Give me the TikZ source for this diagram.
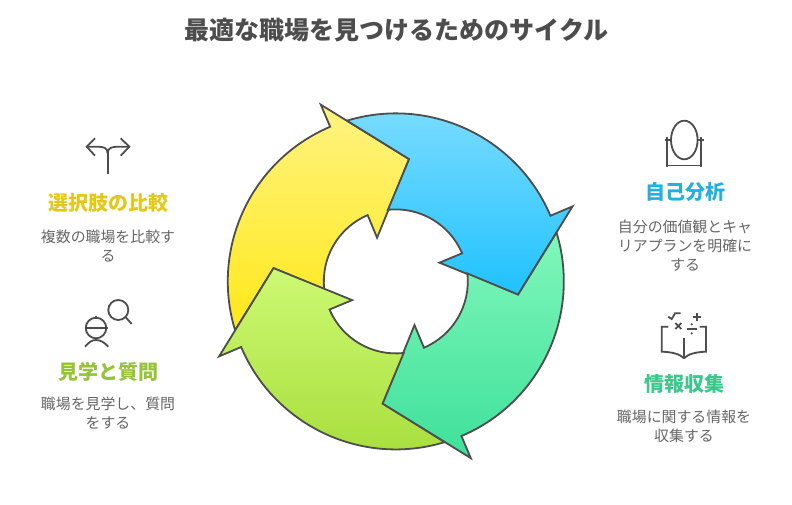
\documentclass[tikz,border=0pt]{standalone}
\usepackage{fontspec}
\setmainfont{Noto Sans CJK JP}
\definecolor{linegray}{HTML}{4D4D4D}
\definecolor{textgray}{HTML}{666666}
\definecolor{HeadYellow}{HTML}{E3C81A}
\definecolor{HeadLime}{HTML}{97C23C}
\definecolor{HeadBlue}{HTML}{22B0E0}
\definecolor{HeadGreen}{HTML}{3CC88C}
\tikzset{
    ringarrow/.style={draw=linegray, line width=1.8pt, line join=miter},
    iconline/.style={draw=linegray, line width=1.8pt},
    titlelabel/.style={font=\fontsize{25}{29}\selectfont\bfseries, text=linegray},
    headlabel/.style={font=\fontsize{20}{24}\selectfont\bfseries},
    bodylabel/.style={font=\fontsize{14.9}{19}\selectfont, text=textgray, align=center}
}
\begin{document}
\begin{tikzpicture}[x=1pt, y=1pt]
    \useasboundingbox (0, 0) rectangle (792, 504);

    % Title
    \node[titlelabel] (title) at (396.5, 474) {最適な職場を見つけるためのサイクル};

    % Four arrows of the ring
    \begin{scope}[shift={(395.8, 222.6)}]
        \foreach \rot/\topc/\botc in {0/FFF380/FFE81A, -90/80DDFF/1FC2FF, -180/80F7BB/3EE09A, -270/CDF973/A6DD3A} {
            \definecolor{topcol}{HTML}{\topc}
            \definecolor{botcol}{HTML}{\botc}
            \path[ringarrow, top color=topcol, bottom color=botcol]
                (\rot+196.9:168) arc[start angle=\rot+196.9, end angle=\rot+113, radius=168]
                -- (\rot+113:192) -- (\rot+83.8:123) -- (\rot+113.2:47.5) -- (\rot+113:72)
                arc[start angle=\rot+113, end angle=\rot+186.3, radius=72]
                -- (\rot+173.8:123) -- cycle;
        }
    \end{scope}

    % Fork icon
    \draw[iconline] (107.7, 329.7) -- (107.7, 350.7);
    \draw[iconline] (107.7, 350.7) .. controls (107.7, 356.5) and (103, 357.3) .. (97, 357.3) -- (86.7, 357.3);
    \draw[iconline] (107.7, 350.7) .. controls (107.7, 356.5) and (112.4, 357.3) .. (118.4, 357.3) -- (129.3, 357.3);
    \draw[iconline] (95, 365.7) -- (86.7, 357.3) -- (95, 348.3);
    \draw[iconline] (120.7, 365.7) -- (129.3, 357.3) -- (120.7, 348.3);

    % Worker icon
    \draw[iconline] (118.3, 194) circle (10);
    \draw[iconline] (125.5, 187) -- (131.7, 180);
    \draw[iconline] (85, 176) -- (108.3, 176);
    \draw[iconline] (96, 188.3) -- (96, 185.5);
    \draw[iconline] (96, 176) circle (10.3);
    \draw[iconline] (85, 157.3) .. controls (89, 162) and (92, 164) .. (96, 164) .. controls (100, 164) and (104, 162) .. (108.3, 157.3);

    % Mirror icon
    \draw[iconline] (684.3, 364) ellipse (13.3 and 19.3);
    \draw[iconline] (667.3, 367) -- (667.3, 337.3);
    \draw[iconline] (701, 367) -- (701, 337.3);
    \draw[iconline] (666.5, 338.5) -- (702, 338.5);
    \draw[iconline] (665, 364) -- (671, 364);
    \draw[iconline] (697.5, 364) -- (704, 364);

    % Book icon
    \draw[iconline] (668.3, 177.3) -- (661.7, 177.3) -- (661.7, 152.3) .. controls (672, 152) and (680, 150) .. (684, 145.7);
    \draw[iconline] (699.7, 177.3) -- (706, 177.3) -- (706, 152.3) .. controls (696, 152) and (688, 150) .. (684, 145.7);
    \draw[iconline] (684, 145.7) -- (684, 165.7);
    \draw[iconline] (668.3, 187.3) -- (671.7, 185) -- (675, 190.7) -- (680.7, 190.7);
    \draw[iconline] (692.7, 187.3) -- (700.7, 187.3);
    \draw[iconline] (696.7, 183.3) -- (696.7, 191.3);
    \draw[iconline] (675.3, 175) -- (681.3, 181);
    \draw[iconline] (675.3, 181) -- (681.3, 175);
    \draw[iconline] (687.3, 175) -- (696.7, 175);
    \fill[linegray] (691.7, 179.7) circle (1.2);
    \fill[linegray] (691.7, 170.7) circle (1.2);

    % Labels on the left
    \node[headlabel, text=HeadYellow] (compare) at (108, 301) {選択肢の比較};
    \node[bodylabel] (comparetext) at (108, 258) {複数の職場を比較す\\る};
    \node[headlabel, text=HeadLime] (visit) at (108, 132) {見学と質問};
    \node[bodylabel] (visittext) at (108, 91) {職場を見学し、質問\\をする};

    % Labels on the right
    \node[headlabel, text=HeadBlue] (self) at (685, 312) {自己分析};
    \node[bodylabel] (selftext) at (685, 258) {自分の価値観とキャ\\リアプランを明確に\\する};
    \node[headlabel, text=HeadGreen] (info) at (684, 120) {情報収集};
    \node[bodylabel] (infotext) at (684, 78) {職場に関する情報を\\収集する};
\end{tikzpicture}
\end{document}
